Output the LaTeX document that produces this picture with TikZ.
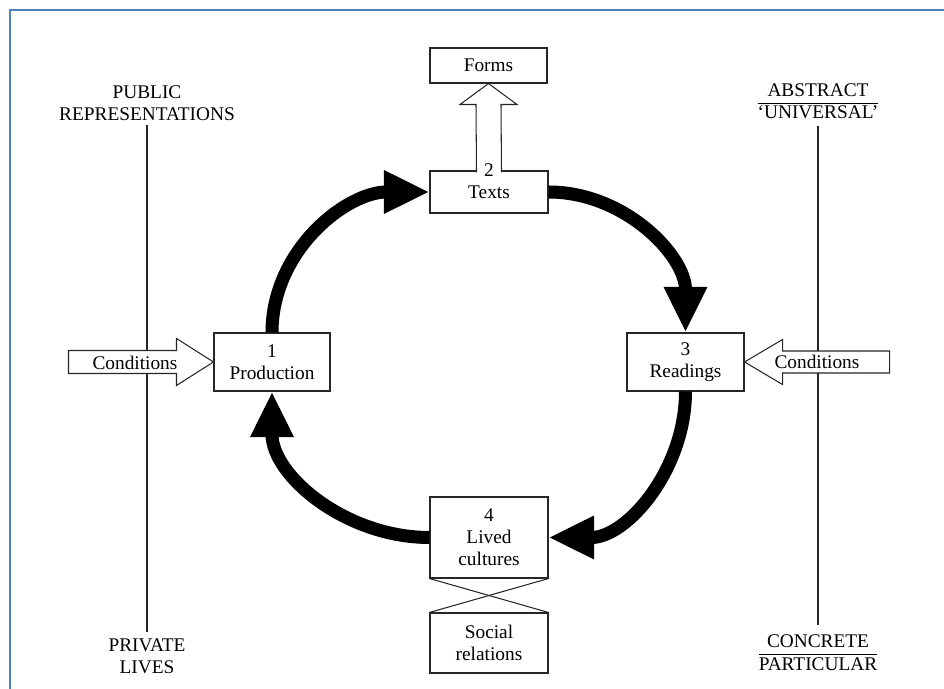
\documentclass[tikz,border=0pt]{standalone}
\usepackage{fontspec}
\setmainfont{Liberation Serif}
\usepackage{tikz}
\usetikzlibrary{arrows.meta}

\definecolor{moldura}{RGB}{79,129,189}
\newcommand{\pxu}{0.02cm}

\begin{document}
\begin{tikzpicture}[x=\pxu, y=\pxu,
	caixa/.style={draw=black!85, line width=0.6pt, fill=white, inner sep=0pt, align=center,
		font=\fontsize{11}{12.5}\selectfont},
	rotulo/.style={align=center, inner sep=0pt, font=\fontsize{11}{12.5}\selectfont},
	ciclo/.style={line width=7.4pt, -{Triangle[length=26pt, width=23pt]}},
	seta/.style={draw=black!85, line width=0.6pt, fill=white, line join=miter}]
	
	\useasboundingbox (0,0) rectangle (944,689);
	
	% Moldura
	\draw[moldura, line width=1.5pt] (944,679) -- (10,679) -- (10,0);
	
	% Rotulos dos eixos
	\node[rotulo] (public) at (147,585.5) {PUBLIC\\REPRESENTATIONS};
	\node[rotulo] (private) at (147,33) {PRIVATE\\LIVES};
	\node[rotulo] (abstract) at (818,586) {\begin{tabular}{@{}c@{}}ABSTRACT\\\hline `UNIVERSAL'\end{tabular}};
	\node[rotulo] (concrete) at (818,34.5) {\begin{tabular}{@{}c@{}}CONCRETE\\\hline PARTICULAR\end{tabular}};
	
	% Eixos verticais
	\draw[black!85, line width=0.6pt] ([yshift=-4*\pxu]public.south) -- ([yshift=6*\pxu]private.north);
	\draw[black!85, line width=0.6pt] (abstract.south) -- ([yshift=7*\pxu]concrete.north);
	
	% Caixas do circuito
	\node[caixa, minimum width=117*\pxu, minimum height=35*\pxu] (forms) at (488.5,623.5) {Forms};
	\node[caixa, minimum width=118*\pxu, minimum height=42*\pxu] (texts) at (489,497) {};
	\node[caixa, minimum width=116*\pxu, minimum height=58*\pxu] (prod) at (272,327) {1\\Production};
	\node[caixa, minimum width=117*\pxu, minimum height=58*\pxu] (readings) at (685.5,327) {3\\Readings};
	\node[caixa, minimum width=118*\pxu, minimum height=81*\pxu] (lived) at (489,151.5) {4\\Lived\\cultures};
	\node[caixa, minimum width=118*\pxu, minimum height=60*\pxu] (social) at (489,46) {Social\\relations};
	
	% Seta vazada para Forms
	\draw[seta] ([xshift=-12.5*\pxu, yshift=-2*\pxu]texts.north) -- ([xshift=-12.5*\pxu, yshift=-21*\pxu]forms.south)
		-- ++(-16,0) -- (forms.south) -- ++(28.5,-21) -- ++(-16,0)
		-- ([xshift=12.5*\pxu, yshift=-2*\pxu]texts.north);
	\node[rotulo] (textslbl) at (489,508) {2\\Texts};
	
	% Condicoes
	\draw[seta] (prod.west) -- ++(-37,23.5) -- ++(0,-12) -- ++(-108,0) -- ++(0,-23) -- ++(108,0) -- ++(0,-12) -- cycle;
	\node[rotulo] (condl) at (135,326) {Conditions};
	\draw[seta] (readings.east) -- ++(38,22.5) -- ++(0,-11.5) -- ++(107,0) -- ++(0,-22) -- ++(-107,0) -- ++(0,-11.5) -- cycle;
	\node[rotulo] (condr) at (817,327) {Conditions};
	
	% Social relations ligado a Lived cultures
	\draw[black!85, line width=0.6pt] (lived.south west) -- (social.north east);
	\draw[black!85, line width=0.6pt] (lived.south east) -- (social.north west);
	
	% Circuito
	\draw[ciclo] (prod.north) to[out=90, in=180] (texts.west);
	\draw[ciclo] (texts.east) to[out=0, in=90] (readings.north);
	\draw[ciclo] (readings.south) to[out=-90, in=0] (lived.east);
	\draw[ciclo] (lived.west) to[out=180, in=-90] (prod.south);
\end{tikzpicture}
\end{document}
